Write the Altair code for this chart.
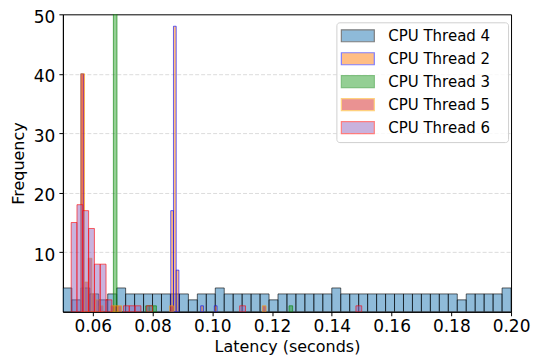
import altair as alt
import pandas as pd

series_names = ["CPU Thread 4", "CPU Thread 2", "CPU Thread 3", "CPU Thread 5", "CPU Thread 6"]
fill_colors = ["#1f77b4", "#ff7f0e", "#2ca02c", "#d62728", "#9467bd"]
edge_colors = ["black", "blue", "green", "orange", "red"]

# Thread 4: 50 bins from 0.050 with width 0.003
t4_start, t4_width = 0.050, 0.003
t4_bins = list(range(50))
t4_counts = [4, 2, 4, 3, 2, 3, 4, 3, 3, 3,
             3, 3, 3, 3, 2, 3, 3, 4, 3, 3,
             3, 3, 3, 2, 3, 3, 3, 3, 3, 3,
             4, 3, 3, 3, 3, 3, 3, 3, 3, 3,
             3, 3, 3, 3, 2, 3, 3, 3, 3, 4]

# Thread 2
t2_start, t2_width = 0.0560, 0.000912
t2_bins = [0, 33, 34, 35, 44, 49]
t2_counts = [40, 17, 48, 7, 1, 1]

# Thread 3
t3_start, t3_width = 0.0669, 0.0012
t3_bins = [0, 9, 10, 11, 49]
t3_counts = [96, 1, 1, 1, 1]

# Thread 5
t5_start, t5_width = 0.0560, 0.00124
t5_bins = [0, 1, 2, 3, 4, 5, 8, 9, 10, 24, 49]
t5_counts = [40, 5, 9, 3, 2, 1, 1, 1, 1, 1, 1]

# Thread 6
t6_start, t6_width = 0.05277, 0.001945
t6_bins = [0, 1, 2, 3, 4, 5, 6, 9, 10, 11, 13, 29, 49]
t6_counts = [15, 18, 17, 14, 8, 8, 2, 1, 1, 1, 1, 1, 1]

x_ticks = [0.06, 0.08, 0.10, 0.12, 0.14, 0.16, 0.18, 0.20]
y_ticks = [10, 20, 30, 40, 50]

rows = []
for name, start, width, bins, counts in [
    ("CPU Thread 4", t4_start, t4_width, t4_bins, t4_counts),
    ("CPU Thread 2", t2_start, t2_width, t2_bins, t2_counts),
    ("CPU Thread 3", t3_start, t3_width, t3_bins, t3_counts),
    ("CPU Thread 5", t5_start, t5_width, t5_bins, t5_counts),
    ("CPU Thread 6", t6_start, t6_width, t6_bins, t6_counts),
]:
    for b, c in zip(bins, counts):
        x0 = start + b * width
        rows.append({"series": name, "x0": x0, "x1": x0 + width, "count": c})
df = pd.DataFrame(rows)

legend = alt.Legend(
    title=None, orient="none", legendX=274, legendY=8,
    symbolType="M-2.75,-1L2.75,-1L2.75,1L-2.75,1Z", symbolSize=144,
    symbolOffset=8, labelOffset=23, symbolOpacity=0.5, symbolStrokeWidth=1.2,
    labelFontSize=15, labelFont="DejaVu Sans", labelColor="black",
    labelExpr="datum.label + '\u2800'",
    padding=6, rowPadding=6, fillColor="rgba(255,255,255,0.8)",
    strokeColor="#d0d0d0", cornerRadius=3,
)

chart = alt.Chart(df).mark_rect(fillOpacity=0.5, strokeOpacity=0.6, strokeWidth=1, clip=True).encode(
    x=alt.X("x0:Q", scale=alt.Scale(domain=[0.05, 0.2], nice=False, zero=False),
            axis=alt.Axis(values=x_ticks, format=".2f", title="Latency (seconds)", grid=False,
                          labelFlush=False, labelOverlap=False,
                          labelFontSize=17, titleFontSize=16, tickSize=4, labelPadding=3,
                          titlePadding=4)),
    x2="x1:Q",
    y=alt.Y("count:Q", scale=alt.Scale(domain=[0, 50], nice=False),
            axis=alt.Axis(values=y_ticks, title="Frequency", grid=True, gridDash=[4, 2],
                          gridColor="#dcdcdc",
                          gridOpacity={"condition": {"test": "datum.value >= 50", "value": 0}, "value": 1},
                          labelFontSize=17, titleFontSize=16, labelOffset=3,
                          tickSize=4, labelPadding=4, titlePadding=7)),
    y2=alt.datum(0),
    fill=alt.Fill("series:N", scale=alt.Scale(domain=series_names, range=fill_colors), legend=legend),
    stroke=alt.Stroke("series:N", scale=alt.Scale(domain=series_names, range=edge_colors), legend=legend),
).properties(
    width=449, height=298,
    autosize=alt.AutoSizeParams(type="none"),
    padding={"left": 55, "top": 6, "right": 25, "bottom": 50},
).configure(font="DejaVu Sans").configure_view(
    stroke="black", strokeWidth=1
).configure_axis(
    domainColor="black", tickColor="black", labelColor="black", titleColor="black",
    titleFontWeight="normal", labelFont="DejaVu Sans", titleFont="DejaVu Sans"
)

chart.save("out.html", embed_options={"renderer": "svg", "actions": False})
